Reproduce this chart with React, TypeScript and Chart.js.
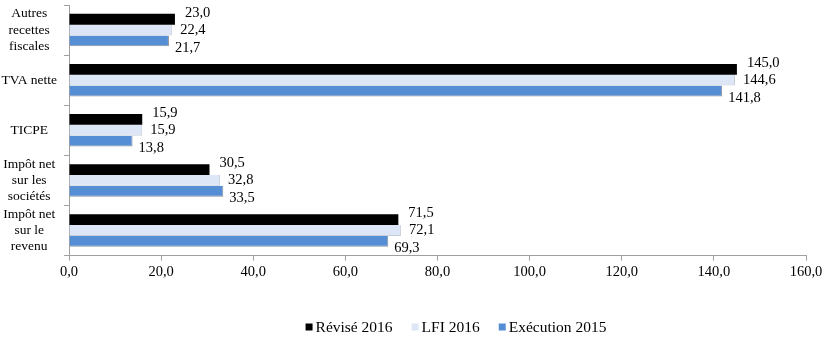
import React, { useEffect, useRef } from "react";
import { Chart, registerables } from "chart.js";

Chart.register(...registerables);

const categories: string[][] = [
  ["Autres", "recettes", "fiscales"],
  ["TVA nette"],
  ["TICPE"],
  ["Impôt net", "sur les", "sociétés"],
  ["Impôt net", "sur le", "revenu"],
];
const revise2016 = [23.0, 145.0, 15.9, 30.5, 71.5];
const lfi2016 = [22.4, 144.6, 15.9, 32.8, 72.1];
const execution2015 = [21.7, 141.8, 13.8, 33.5, 69.3];
const seriesNames = ["Révisé 2016", "LFI 2016", "Exécution 2015"];
const xTicksMin = 0;
const xTicksMax = 160;
const xTickStep = 20;

const FONT = "'Liberation Serif', 'DejaVu Serif', serif";
const FS = 14.5;
const fmt = (v: number) => v.toFixed(1).replace(".", ",");

const labelPlugin = {
  id: "valueLabels",
  afterDatasetsDraw(chart: any) {
    const ctx = chart.ctx;
    ctx.save();
    ctx.font = `${FS}px ${FONT}`;
    ctx.fillStyle = "#000";
    ctx.textAlign = "left";
    ctx.textBaseline = "middle";
    const dys = [-6, 0, 7];
    const dxs = [10, 8, 6];
    chart.data.datasets.forEach((ds: any, di: number) => {
      const meta = chart.getDatasetMeta(di);
      meta.data.forEach((bar: any, i: number) => {
        const v = ds.data[i];
        ctx.fillText(fmt(v), bar.x + dxs[di], bar.y + dys[di]);
      });
    });
    ctx.restore();
  },
};

const legendPlugin = {
  id: "customLegend",
  afterDraw(chart: any) {
    const ctx = chart.ctx;
    ctx.save();
    ctx.font = `15.5px ${FONT}`;
    ctx.textBaseline = "middle";
    ctx.textAlign = "left";
    const box = 7;
    const boxGap = 3;
    const itemGap = 19;
    const items = chart.data.datasets.map((ds: any) => ({
      text: ds.label,
      color: ds.backgroundColor,
      w: ctx.measureText(ds.label).width,
    }));
    const total =
      items.reduce((s: number, it: any) => s + box + boxGap + it.w, 0) +
      itemGap * (items.length - 1);
    const cx = 456;
    const cy = 327;
    let x = cx - total / 2;
    items.forEach((it: any) => {
      ctx.fillStyle = it.color;
      ctx.fillRect(x, cy - box / 2, box, box);
      x += box + boxGap;
      ctx.fillStyle = "#000";
      ctx.fillText(it.text, x, cy + 0.5);
      x += it.w + itemGap;
    });
    ctx.restore();
  },
};

export default function App() {
  const ref = useRef<HTMLCanvasElement | null>(null);
  useEffect(() => {
    if (!ref.current) return;
    const chart = new Chart(ref.current, {
      type: "bar",
      data: {
        labels: categories as any,
        datasets: [
          {
            label: seriesNames[0],
            data: revise2016,
            backgroundColor: "#000000",
            borderColor: "#000000",
            borderWidth: 0,
          },
          {
            label: seriesNames[1],
            data: lfi2016,
            backgroundColor: "#dce6f6",
            borderColor: "#c8ced8",
            borderWidth: { top: 0, left: 0, right: 1, bottom: 1 } as any,
          },
          {
            label: seriesNames[2],
            data: execution2015,
            backgroundColor: "#558ed5",
            borderColor: "#8a9099",
            borderWidth: { top: 0, left: 0, right: 1, bottom: 1 } as any,
          },
        ],
      },
      options: {
        indexAxis: "y",
        responsive: false,
        animation: false,
        layout: { padding: { top: 5, right: 33, left: 0, bottom: 65 } },
        datasets: {
          bar: { categoryPercentage: 0.65, barPercentage: 1.0 },
        } as any,
        scales: {
          x: {
            min: xTicksMin,
            max: xTicksMax,
            ticks: {
              stepSize: xTickStep,
              callback: (v: any) => fmt(Number(v)),
              font: { family: FONT, size: FS },
              color: "#000",
              padding: 3,
            },
            grid: {
              drawOnChartArea: false,
              drawTicks: true,
              tickLength: 5,
              color: "#a0a0a0",
            },
            border: { color: "#a0a0a0", width: 1 },
          },
          y: {
            afterFit: (scale: any) => {
              scale.paddingTop = 0;
              scale.paddingBottom = 0;
              scale.width = 69;
            },
            ticks: {
              autoSkip: false,
              font: { family: FONT, size: 13.5, lineHeight: 1.2 },
              color: "#000",
              crossAlign: "center",
              padding: 7,
            },
            grid: {
              offset: true,
              drawOnChartArea: false,
              drawTicks: true,
              tickLength: 5,
              color: "#a0a0a0",
            },
            border: { color: "#a0a0a0", width: 1 },
          },
        },
        plugins: {
          legend: { display: false },
          tooltip: { enabled: false },
        },
      },
      plugins: [labelPlugin, legendPlugin],
    });
    return () => chart.destroy();
  }, []);
  return (
    <div style={{ position: "absolute", left: 0, top: 0, width: 839, height: 349, background: "#fff" }}>
      <canvas ref={ref} width={839} height={349} />
    </div>
  );
}
